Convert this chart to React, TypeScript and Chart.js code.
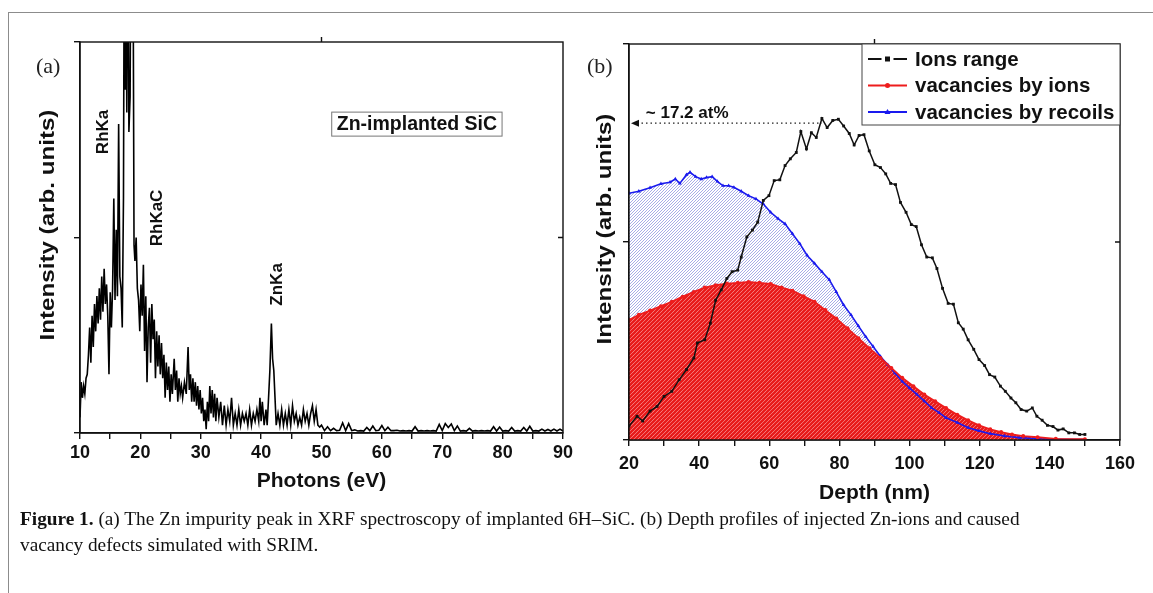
import React, { useEffect, useRef } from "react";
import { Chart, registerables } from "chart.js";

Chart.register(...registerables);

// ---------- Panel (a): XRF spectrum ----------
const photonEnergy = [
  10.0, 10.2, 10.4, 10.6, 10.8, 11.0, 11.2, 11.4, 11.6, 11.8, 12.0, 12.2, 12.4, 12.6, 12.8, 13.0, 13.2, 13.4, 13.6, 13.8,
  14.0, 14.2, 14.4, 14.6, 14.8, 15.0, 15.2, 15.4, 15.6, 15.8, 16.0, 16.2, 16.4, 16.6, 16.8, 17.0, 17.2, 17.35, 17.5, 17.6,
  17.75, 17.9, 18.1, 18.3, 18.45, 18.6, 18.75, 18.95, 19.1, 19.3, 19.5, 19.7, 19.9, 20.1, 20.3, 20.5, 20.7, 20.9, 21.1, 21.3,
  21.5, 21.7, 21.9, 22.1, 22.3, 22.5, 22.7, 22.9, 23.1, 23.3, 23.5, 23.7, 23.9, 24.1, 24.3, 24.5, 24.7, 24.9, 25.1, 25.3,
  25.6, 25.8, 26.0, 26.2, 26.4, 26.6, 26.8, 27.0, 27.3, 27.6, 27.9, 28.1, 28.3, 28.5, 28.7, 28.9, 29.1, 29.3, 29.5, 29.7,
  29.9, 30.1, 30.3, 30.5, 30.7, 30.9, 31.1, 31.3, 31.5, 31.7, 31.9, 32.1, 32.3, 32.5, 32.7, 33.0, 33.3, 33.6, 33.9, 34.2,
  34.5, 34.8, 35.1, 35.4, 35.7, 36.0, 36.3, 36.6, 36.9, 37.2, 37.5, 37.8, 38.1, 38.4, 38.7, 39.0, 39.3, 39.6, 39.8, 40.0,
  40.2, 40.5, 40.8, 41.0, 41.2, 41.45, 41.7, 41.9, 42.1, 42.3, 42.5, 42.8, 43.1, 43.4, 43.7, 44.0, 44.3, 44.6, 44.9, 45.2,
  45.5, 45.8, 46.1, 46.4, 46.7, 47.0, 47.3, 47.6, 47.9, 48.2, 48.5, 48.8, 49.1, 49.4, 49.7, 50.0, 50.5, 51.0, 51.5, 52.0,
  52.5, 53.0, 53.5, 54.0, 54.5, 55.0, 55.5, 56.0, 56.5, 57.0, 57.5, 58.0, 58.5, 59.0, 59.5, 60.0, 60.5, 61.0, 61.5, 62.0,
  62.5, 63.0, 63.5, 64.0, 64.5, 65.0, 65.5, 66.0, 66.5, 67.0, 67.5, 68.0, 68.5, 69.0, 69.5, 70.0, 70.5, 71.0, 71.5, 72.0,
  72.5, 73.0, 73.5, 74.0, 74.5, 75.0, 75.5, 76.0, 76.5, 77.0, 77.5, 78.0, 78.5, 79.0, 79.5, 80.0, 80.5, 81.0, 81.5, 82.0,
  82.5, 83.0, 83.5, 84.0, 84.5, 85.0, 85.5, 86.0, 86.5, 87.0, 87.5, 88.0, 88.5, 89.0, 89.5, 90.0,
];
const xrfIntensity = [
  4, 13, 9, 12, 10, 14, 15, 20, 27, 18, 30, 22, 33, 26, 35, 28, 37, 29, 40, 31,
  42, 33, 38, 30, 15, 36, 27, 37, 60, 34, 52, 35, 79, 40, 37, 27, 60, 140, 88, 140,
  82, 140, 77, 86, 140, 110, 140, 48, 44, 50, 37, 34, 26, 38, 30, 43, 21, 35, 13, 27,
  32, 18, 33, 24, 29, 14, 26, 17, 25, 15, 23, 14, 20, 9, 18, 11, 17, 8, 15, 10,
  19, 11, 16, 8, 14, 10, 12, 9, 13, 10, 22, 11, 15, 8, 14, 8, 13, 7, 12, 6,
  11, 5, 9, 3, 6, 1, 8, 3, 12, 5, 11, 4, 10, 3, 9, 4, 8, 2, 7, 2,
  6, 3, 9, 2, 5, 2, 6, 2, 5, 3, 5, 2, 6, 2, 5, 3, 6, 3, 9, 3,
  8, 2, 6, 2, 8, 16, 28, 19, 16, 9, 2, 5, 2, 6, 2, 5, 2, 6, 2, 7,
  3, 5, 2, 4, 2, 6, 3, 5, 2, 5, 7, 3, 6, 2, 1.5, 2, 0.6, 1.6, 0.6, 1.2,
  0.6, 0.7, 2.6, 0.6, 2.4, 0.6, 0.8, 0.5, 0.6, 0.5, 1.4, 0.6, 1.8, 0.6, 0.7, 1.9, 0.6, 1.5, 0.6, 0.6,
  0.7, 0.5, 0.6, 0.5, 0.6, 0.5, 1.6, 0.5, 0.6, 0.5, 0.6, 0.5, 0.6, 0.5, 2.2, 0.6, 2.4, 1.4, 2.3, 0.6,
  1.8, 0.5, 0.6, 0.5, 1.2, 0.5, 0.6, 0.5, 0.6, 0.5, 0.6, 0.5, 1.6, 0.5, 1.5, 0.5, 0.6, 0.5, 1.4, 0.5,
  0.6, 0.5, 1.4, 0.5, 1.7, 0.5, 0.6, 0.5, 1.0, 0.5, 0.9, 0.5, 1.0, 0.5, 1.0, 0.5,
];
const peakLabels = ["RhKa", "RhKaC", "ZnKa"];
const peakLabelEnergy = [13.8, 22.8, 42.6];
const peakLabelLevel = [77, 55, 38];

// ---------- Panel (b): SRIM depth profiles ----------
const ionsDepth = [
  20, 22.3, 23.9, 26, 28, 30, 32.2, 34.3, 36.4, 38.5, 39.5, 41.6, 43.2, 44.7, 46.3, 47.9, 49.4, 51, 52, 53.6,
  55.2, 56.7, 58.3, 59.9, 61.4, 63, 64.5, 66, 67.7, 69, 70.6, 72, 73.4, 75, 76.5, 78.1, 79.7, 81.2, 82.8, 84.2,
  85.6, 87, 88.5, 90.1, 91.7, 93.2, 94.6, 96, 97.4, 99, 100.5, 101.9, 103.4, 104.9, 106.5, 107.8, 109.4, 111, 112.5, 113.9,
  115.3, 116.7, 118.3, 119.8, 121.4, 122.8, 124.3, 125.9, 127.3, 128.9, 130.3, 131.8, 133.4, 135, 136.3, 137.8, 139.3, 140.9, 142.3, 143.8,
  145.4, 147, 148.5, 150,
];
const ionsRange = [
  3.5, 6, 4.8, 7.3, 8.5, 11, 12.3, 15.2, 17.8, 20.7, 24.5, 25.3, 29.5, 35.3, 37.9, 40.8, 42.5, 42.9, 46.2, 51.3,
  53, 55, 60.5, 61.7, 65.5, 65.7, 69.3, 71, 72.6, 77.9, 73.5, 77.6, 76.4, 81.2, 78.9, 80.7, 81, 79.3, 77.4, 74.5,
  76.9, 77.1, 73, 69.5, 68.8, 67.2, 64.8, 64.5, 60, 57.5, 54.4, 53.9, 49.3, 46.2, 46, 43.3, 38.3, 34.5, 34.3, 29.6,
  28, 25.3, 22.9, 20.3, 18.8, 16.5, 15.9, 13.6, 12.3, 10.6, 9.4, 7.7, 7.3, 8.1, 6, 5, 3.7, 3.4, 2.5, 2.8,
  1.8, 1.8, 1.4, 1.4,
];
const vacIonsDepth = [
  20, 22.8, 26, 29.1, 32.2, 35.3, 38.5, 41.6, 44.7, 47.9, 51, 54.1, 57.2, 60.4, 63.5, 66.6, 69.8, 72.9, 76, 79.1,
  82.3, 85.4, 88.5, 91.7, 94.8, 97.9, 101.1, 104.2, 107.3, 110.4, 113.6, 116.7, 119.8, 123, 126.1, 129.2, 132.4, 136.5, 141.7, 150,
];
const vacIons = [
  30.3, 31.6, 32.7, 33.8, 34.9, 36.2, 37.4, 38.5, 39.1, 39.5, 39.7, 39.9, 39.7, 39.4, 38.5, 37.7, 36.3, 34.9, 32.8, 30.7,
  28.2, 25.7, 23.2, 20.7, 18.2, 15.7, 13.6, 11.5, 9.8, 8.1, 6.4, 5, 3.7, 2.7, 2, 1.4, 1, 0.7, 0.3, 0.2,
];
const vacRecoilDepth = [
  20, 22.8, 26, 29.1, 31.7, 33.2, 34.5, 36.4, 37.4, 39, 40.6, 42.1, 43.7, 45.2, 46.8, 48.4, 49.9, 52, 54.1, 56.2,
  58.3, 60.4, 62.5, 64.5, 66.6, 68.7, 70.8, 72.9, 75, 77.1, 79.1, 81.2, 83.3, 85.4, 87.5, 89.6, 91.7, 93.8, 95.8, 97.9,
  100, 102.1, 104.2, 106.3, 108.4, 110.4, 113.6, 116.7, 119.8, 123, 127.1, 131.3, 136.5, 141.7, 150,
];
const vacRecoils = [
  62.3, 62.8, 63.7, 64.7, 65.1, 65.9, 64.8, 67, 67.6, 66.5, 65.9, 66.3, 66.5, 65.3, 64.2, 64.2, 63.8, 62.8, 61.7, 60.9,
  59.6, 57.5, 55.9, 54.6, 52.1, 49.6, 46.6, 44.6, 42.5, 40.5, 37.4, 34.1, 31.6, 28.8, 26.1, 23.6, 21.1, 19, 16.9, 14.8,
  13.1, 11.5, 9.8, 8.1, 6.9, 5.6, 4.4, 3.1, 2.3, 1.6, 1, 0.6, 0.3, 0.2, 0.1,
];
const seriesNames = ["Ions range", "vacancies by ions", "vacancies by recoils"];
const seriesColors = ["#111111", "#ee1c1c", "#1a1aee"];
const peakDepth = 75;
const peakLevel = 80;
const peakText = "~ 17.2 at%";
const yTitle = "Intensity (arb. units)";

const SANS = '"Liberation Sans", Arial, Helvetica, sans-serif';
const SERIF = '"Liberation Serif", "Times New Roman", serif';

function makeHatch(bg: string, line: string, size: number, lw: number) {
  const c = document.createElement("canvas");
  c.width = size;
  c.height = size;
  const g = c.getContext("2d")!;
  g.fillStyle = bg;
  g.fillRect(0, 0, size, size);
  g.strokeStyle = line;
  g.lineWidth = lw;
  g.beginPath();
  g.moveTo(-1, size + 1);
  g.lineTo(size + 1, -1);
  g.moveTo(-1, 1);
  g.lineTo(1, -1);
  g.moveTo(size - 1, size + 1);
  g.lineTo(size + 1, size - 1);
  g.stroke();
  return g.createPattern(c, "repeat")!;
}

function drawFrame(chart: any, topTickValue: number) {
  const { ctx, chartArea: ca, scales } = chart;
  ctx.save();
  ctx.strokeStyle = "#111";
  ctx.lineWidth = 1.4;
  ctx.strokeRect(ca.left, ca.top, ca.right - ca.left, ca.bottom - ca.top);
  const xm = scales.x.getPixelForValue(topTickValue);
  const ym = scales.y.getPixelForValue(50);
  ctx.beginPath();
  ctx.moveTo(xm, ca.top);
  ctx.lineTo(xm, ca.top - 5);
  ctx.moveTo(ca.right, ym);
  ctx.lineTo(ca.right - 5, ym);
  ctx.stroke();
  ctx.restore();
}

// vertical axis title, slightly stretched along its length like the source figure
function drawYTitle(chart: any, cx: number, cy: number) {
  const { ctx } = chart;
  ctx.save();
  ctx.fillStyle = "#111";
  ctx.font = `bold 21px ${SANS}`;
  ctx.textAlign = "center";
  ctx.textBaseline = "middle";
  ctx.translate(cx, cy);
  ctx.rotate(-Math.PI / 2);
  ctx.scale(1.15, 1);
  ctx.fillText(yTitle, 0, 0);
  ctx.restore();
}

const panelAPlugin = {
  id: "panelA",
  afterDraw(chart: any) {
    drawFrame(chart, 50);
    drawYTitle(chart, 48, 225);
    const { ctx, scales } = chart;
    ctx.save();
    ctx.fillStyle = "#111";
    ctx.font = `bold 17px ${SANS}`;
    ctx.textAlign = "center";
    ctx.textBaseline = "middle";
    peakLabels.forEach((t, i) => {
      const px = scales.x.getPixelForValue(peakLabelEnergy[i]);
      const py = scales.y.getPixelForValue(peakLabelLevel[i]);
      ctx.save();
      ctx.translate(px, py);
      ctx.rotate(-Math.PI / 2);
      ctx.fillText(t, 0, 0);
      ctx.restore();
    });
    // sample box
    const bx = scales.x.getPixelForValue(65.8);
    const by = scales.y.getPixelForValue(79);
    ctx.font = `bold 19.5px ${SANS}`;
    const w = ctx.measureText("Zn-implanted SiC").width + 10;
    ctx.fillStyle = "#fff";
    ctx.fillRect(bx - w / 2, by - 12, w, 24);
    ctx.strokeStyle = "#777";
    ctx.lineWidth = 1;
    ctx.strokeRect(bx - w / 2, by - 12, w, 24);
    ctx.fillStyle = "#111";
    ctx.fillText("Zn-implanted SiC", bx, by + 1);
    ctx.restore();
  },
};

const panelBPlugin = {
  id: "panelB",
  afterDraw(chart: any) {
    drawFrame(chart, 90);
    drawYTitle(chart, 30, 229);
    const { ctx, chartArea: ca, scales } = chart;
    ctx.save();
    // dotted arrow to peak
    const yy = scales.y.getPixelForValue(peakLevel);
    const xEnd = scales.x.getPixelForValue(peakDepth);
    ctx.strokeStyle = "#222";
    ctx.lineWidth = 1.2;
    ctx.setLineDash([1.5, 3]);
    ctx.beginPath();
    ctx.moveTo(ca.left + 8, yy);
    ctx.lineTo(xEnd, yy);
    ctx.stroke();
    ctx.setLineDash([]);
    ctx.fillStyle = "#111";
    ctx.beginPath();
    ctx.moveTo(ca.left + 2, yy);
    ctx.lineTo(ca.left + 10, yy - 3.5);
    ctx.lineTo(ca.left + 10, yy + 3.5);
    ctx.closePath();
    ctx.fill();
    ctx.font = `bold 17px ${SANS}`;
    ctx.textAlign = "left";
    ctx.textBaseline = "middle";
    ctx.fillText(peakText, scales.x.getPixelForValue(24.8), scales.y.getPixelForValue(82.5));

    // legend box
    const lw = 258;
    const lh = 81;
    const lx = ca.right - lw;
    const ly = ca.top;
    ctx.fillStyle = "#fff";
    ctx.fillRect(lx, ly, lw, lh);
    ctx.strokeStyle = "#444";
    ctx.lineWidth = 1;
    ctx.strokeRect(lx, ly, lw, lh);
    ctx.font = `bold 20.5px ${SANS}`;
    seriesNames.forEach((name, i) => {
      const cy = ly + 15 + i * 26.5;
      const x0 = lx + 6;
      const x1 = lx + 45;
      const xc = (x0 + x1) / 2;
      ctx.strokeStyle = seriesColors[i];
      ctx.fillStyle = seriesColors[i];
      ctx.lineWidth = 2;
      ctx.beginPath();
      if (i === 0) {
        ctx.moveTo(x0, cy);
        ctx.lineTo(xc - 6, cy);
        ctx.moveTo(xc + 6, cy);
        ctx.lineTo(x1, cy);
      } else {
        ctx.moveTo(x0, cy);
        ctx.lineTo(x1, cy);
      }
      ctx.stroke();
      ctx.beginPath();
      if (i === 0) ctx.rect(xc - 2.5, cy - 2.5, 5, 5);
      else if (i === 1) ctx.arc(xc, cy, 2.5, 0, Math.PI * 2);
      else {
        ctx.moveTo(xc, cy - 3);
        ctx.lineTo(xc + 3, cy + 2);
        ctx.lineTo(xc - 3, cy + 2);
        ctx.closePath();
      }
      ctx.fill();
      ctx.fillStyle = "#111";
      ctx.fillText(name, lx + 53, cy + 1);
    });
    ctx.restore();
  },
};

function axisCommon() {
  return {
    grid: { drawOnChartArea: false, tickLength: 6, color: "#111", lineWidth: 1.4 },
    border: { display: true, color: "#111", width: 1.4 },
  };
}

export default function App() {
  const refA = useRef<HTMLCanvasElement>(null);
  const refB = useRef<HTMLCanvasElement>(null);

  useEffect(() => {
    const chartA = new Chart(refA.current!, {
      type: "line",
      data: {
        datasets: [
          {
            data: photonEnergy.map((x, i) => ({ x, y: xrfIntensity[i] })),
            borderColor: "#000",
            borderWidth: 1.6,
            pointRadius: 0,
            tension: 0,
          },
        ],
      },
      options: {
        responsive: false,
        animation: false,
        layout: { padding: { top: 42, right: 17, left: 0, bottom: 0 } },
        plugins: { legend: { display: false }, tooltip: { enabled: false } },
        scales: {
          x: {
            type: "linear",
            min: 10,
            max: 90,
            ...axisCommon(),
            ticks: {
              stepSize: 5,
              autoSkip: false,
              maxRotation: 0,
              color: "#111",
              padding: 3,
              font: { family: SANS, size: 18, weight: "bold" },
              callback: (v: any) => (Number(v) % 10 === 0 ? String(v) : ""),
            },
            title: {
              display: true,
              text: "Photons (eV)",
              color: "#111",
              font: { family: SANS, size: 21, weight: "bold" },
              padding: { top: 0, bottom: 16 },
            },
            afterFit: (s: any) => {
              s.height = 510 - 433;
            },
          },
          y: {
            min: 0,
            max: 100,
            ...axisCommon(),
            ticks: { stepSize: 50, display: false },
            title: { display: false, text: yTitle },
            afterFit: (s: any) => {
              s.width = 80;
            },
          },
        },
      },
      plugins: [panelAPlugin],
    } as any);

    const redHatch = makeHatch("#ffd0d0", "#e81818", 4, 2.4);
    const blueHatch = makeHatch("#ffffff", "#a8ace6", 3, 1);

    const chartB = new Chart(refB.current!, {
      type: "line",
      data: {
        datasets: [
          {
            label: seriesNames[0],
            data: ionsDepth.map((x, i) => ({ x, y: ionsRange[i] })),
            borderColor: seriesColors[0],
            backgroundColor: seriesColors[0],
            borderWidth: 1.5,
            pointStyle: "rect",
            pointRadius: 2,
            pointBorderWidth: 0,
            fill: false,
            order: 0,
          },
          {
            label: seriesNames[1],
            data: vacIonsDepth.map((x, i) => ({ x, y: vacIons[i] })),
            borderColor: seriesColors[1],
            pointBackgroundColor: seriesColors[1],
            backgroundColor: redHatch,
            borderWidth: 1.8,
            pointStyle: "circle",
            pointRadius: 2,
            pointBorderWidth: 0,
            fill: "origin",
            order: 1,
          },
          {
            label: seriesNames[2],
            data: vacRecoilDepth.map((x, i) => ({ x, y: vacRecoils[i] })),
            borderColor: seriesColors[2],
            pointBackgroundColor: seriesColors[2],
            backgroundColor: blueHatch,
            borderWidth: 1.6,
            pointStyle: "triangle",
            pointRadius: 2.2,
            pointBorderWidth: 0,
            fill: "origin",
            order: 2,
          },
        ],
      },
      options: {
        responsive: false,
        animation: false,
        layout: { padding: { top: 44, right: 33, left: 0, bottom: 0 } },
        plugins: {
          legend: { display: false },
          tooltip: { enabled: false },
          filler: { drawTime: "beforeDatasetsDraw" },
        },
        scales: {
          x: {
            type: "linear",
            min: 20,
            max: 160,
            ...axisCommon(),
            ticks: {
              stepSize: 10,
              autoSkip: false,
              maxRotation: 0,
              color: "#111",
              padding: 7,
              font: { family: SANS, size: 18, weight: "bold" },
              callback: (v: any) => (Number(v) % 20 === 0 ? String(v) : ""),
            },
            title: {
              display: true,
              text: "Depth (nm)",
              color: "#111",
              font: { family: SANS, size: 21, weight: "bold" },
              padding: { top: 0, bottom: 4 },
            },
            afterFit: (s: any) => {
              s.height = 510 - 440;
            },
          },
          y: {
            min: 0,
            max: 100,
            ...axisCommon(),
            ticks: { stepSize: 50, display: false },
            title: { display: false, text: yTitle },
            afterFit: (s: any) => {
              s.width = 54;
            },
          },
        },
      },
      plugins: [panelBPlugin],
    } as any);

    return () => {
      chartA.destroy();
      chartB.destroy();
    };
  }, []);

  return (
    <div style={{ position: "absolute", left: 0, top: 0, width: 1153, height: 593, background: "#fff", overflow: "hidden" }}>
      <div
        style={{
          position: "absolute",
          left: 8,
          top: 12,
          width: 1160,
          height: 600,
          borderTop: "1.5px solid #8c8c8c",
          borderLeft: "1.5px solid #8c8c8c",
        }}
      />
      <canvas ref={refA} width={580} height={510} style={{ position: "absolute", left: 0, top: 0 }} />
      <canvas ref={refB} width={578} height={510} style={{ position: "absolute", left: 575, top: 0 }} />
      <div style={{ position: "absolute", left: 36, top: 53, font: `22px ${SERIF}`, color: "#222" }}>(a)</div>
      <div style={{ position: "absolute", left: 587, top: 53, font: `22px ${SERIF}`, color: "#222" }}>(b)</div>
      <div
        style={{
          position: "absolute",
          left: 20,
          top: 506,
          width: 1120,
          font: `19.3px ${SERIF}`,
          lineHeight: "26px",
          color: "#111",
          whiteSpace: "nowrap",
        }}
      >
        <b>Figure 1.</b> (a) The Zn impurity peak in XRF spectroscopy of implanted 6H–SiC. (b) Depth profiles of injected Zn-ions and caused
        <br />
        vacancy defects simulated with SRIM.
      </div>
    </div>
  );
}
